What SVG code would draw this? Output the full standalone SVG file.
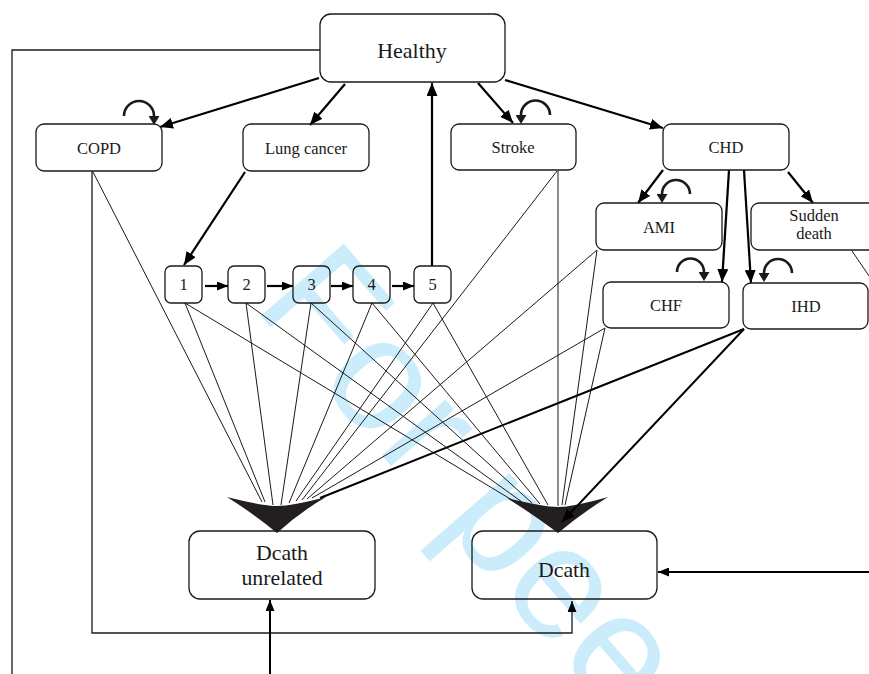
<svg xmlns="http://www.w3.org/2000/svg" width="869" height="674" viewBox="0 0 869 674">
<style>
.box{fill:none;stroke:#1a1a1a;stroke-width:1.3}
.t{font-family:"Liberation Serif","Times New Roman",serif;fill:#1a1a1a;text-anchor:middle}
.s{font-size:16.5px}
.big{font-size:22px}
.thin{fill:none;stroke:#1a1a1a;stroke-width:1}
.bold{fill:none;stroke:#000;stroke-width:2.2}
.frame{fill:none;stroke:#1a1a1a;stroke-width:1.3}
.loop{fill:none;stroke:#1a1a1a;stroke-width:2.6}
.fan{fill:#231f20}
.wm{font-family:"Liberation Sans",Arial,sans-serif;font-size:160px;fill:#cbedfb}
</style>
<defs>
<marker id="arr" markerUnits="userSpaceOnUse" markerWidth="13" markerHeight="11" viewBox="0 0 13 11" refX="13" refY="5.5" orient="auto"><path d="M0,0 L13,5.5 L0,11 z" fill="#000"/></marker>
<marker id="sarr" markerUnits="userSpaceOnUse" markerWidth="11" markerHeight="9" viewBox="0 0 11 9" refX="11" refY="4.5" orient="auto"><path d="M0,0 L11,4.5 L0,9 z" fill="#000"/></marker>
<marker id="larr" markerUnits="userSpaceOnUse" markerWidth="9" markerHeight="11" viewBox="0 0 9 11" refX="0" refY="5.5" orient="auto"><path d="M0,0 L9,5.5 L0,11 z" fill="#1a1a1a"/></marker>
</defs>

<text class="wm" transform="translate(252,306) rotate(49)">For peer review</text>

<g id="connectors">
<polyline class="frame" points="320,50 12,50 12,674"/>
<polyline class="frame" points="92,171 92,633 572,633 572,601" marker-end="url(#sarr)"/>
<line class="bold" x1="270" y1="674" x2="270" y2="600" marker-end="url(#sarr)" style="stroke-width:2"/>
<line class="bold" x1="869" y1="572" x2="658" y2="572" marker-end="url(#sarr)" style="stroke-width:2"/>
<line class="thin" x1="852" y1="251" x2="880" y2="292"/>

<line class="bold" x1="319" y1="78" x2="160" y2="127" marker-end="url(#arr)"/>
<line class="bold" x1="345" y1="84" x2="310" y2="125" marker-end="url(#arr)"/>
<line class="bold" x1="478" y1="83" x2="513" y2="123" marker-end="url(#arr)"/>
<line class="bold" x1="505" y1="80" x2="663" y2="128" marker-end="url(#arr)"/>
<line class="bold" x1="432" y1="266" x2="432" y2="83" marker-end="url(#arr)"/>

<line class="bold" x1="663" y1="170" x2="638" y2="203" marker-end="url(#arr)"/>
<line class="bold" x1="729" y1="170" x2="722" y2="282" marker-end="url(#arr)"/>
<line class="bold" x1="744" y1="170" x2="751" y2="283" marker-end="url(#arr)"/>
<line class="bold" x1="788" y1="172" x2="813" y2="203" marker-end="url(#arr)"/>

<line class="bold" x1="245" y1="172" x2="184" y2="265" marker-end="url(#arr)"/>
<line class="bold" x1="205" y1="286" x2="228" y2="286" marker-end="url(#sarr)"/>
<line class="bold" x1="267" y1="286" x2="293" y2="286" marker-end="url(#sarr)"/>
<line class="bold" x1="331" y1="286" x2="353" y2="286" marker-end="url(#sarr)"/>
<line class="bold" x1="392" y1="286" x2="414" y2="286" marker-end="url(#sarr)"/>

<path class="loop" d="M124,116 A15,15 0 0 1 154,116" marker-end="url(#larr)"/>
<path class="loop" d="M550,115 A14.5,14.5 0 0 0 521,115" marker-end="url(#larr)"/>
<path class="loop" d="M690,194 A14,14 0 0 0 662,194" marker-end="url(#larr)"/>
<path class="loop" d="M677,272 A13.5,13.5 0 0 1 704,272" marker-end="url(#larr)"/>
<path class="loop" d="M792,273 A14,14 0 0 0 764,273" marker-end="url(#larr)"/>

<line class="thin" x1="93" y1="172" x2="262" y2="502"/>
<line class="thin" x1="185" y1="303" x2="265" y2="502"/>
<line class="thin" x1="246" y1="303" x2="273" y2="505"/>
<line class="thin" x1="311" y1="303" x2="281" y2="505"/>
<line class="thin" x1="372" y1="303" x2="289" y2="503"/>
<line class="thin" x1="433" y1="303" x2="296" y2="501"/>
<line class="thin" x1="557" y1="171" x2="302" y2="500"/>
<line class="thin" x1="597" y1="250" x2="307" y2="499"/>
<line class="thin" x1="605" y1="328" x2="312" y2="498"/>
<line class="bold" x1="744" y1="329" x2="320" y2="498" style="stroke-width:2"/>

<line class="thin" x1="185" y1="303" x2="512" y2="500"/>
<line class="thin" x1="246" y1="303" x2="522" y2="502"/>
<line class="thin" x1="311" y1="303" x2="532" y2="503"/>
<line class="thin" x1="372" y1="303" x2="540" y2="504"/>
<line class="thin" x1="433" y1="303" x2="548" y2="505"/>
<line class="thin" x1="558" y1="171" x2="558" y2="506"/>
<line class="thin" x1="597" y1="250" x2="562" y2="505"/>
<line class="thin" x1="605" y1="328" x2="565" y2="505"/>

<path class="fan" d="M227,497 Q262,506 277,506 Q292,506 326,497 Q300,512 277,533 Q254,514 227,497 Z"/>
<path class="fan" d="M507,498 Q543,507 558,507 Q573,507 608,497 Q582,513 558,533 Q534,515 507,498 Z"/>
<line class="bold" x1="744" y1="329" x2="562" y2="522" marker-end="url(#arr)" style="stroke-width:2"/>
</g>

<g id="healthy"><rect class="box" x="320" y="14" width="185" height="68" rx="11"/><text class="t big" x="412" y="58">Healthy</text></g>
<g id="copd"><rect class="box" x="36" y="124" width="126" height="47" rx="8"/><text class="t s" x="99" y="154">COPD</text></g>
<g id="lungcancer"><rect class="box" x="243" y="124" width="126" height="47" rx="8"/><text class="t s" x="306" y="154">Lung cancer</text></g>
<g id="stroke"><rect class="box" x="451" y="124" width="125" height="46" rx="8"/><text class="t s" x="513" y="153">Stroke</text></g>
<g id="chd"><rect class="box" x="663" y="124" width="126" height="46" rx="8"/><text class="t s" x="726" y="153">CHD</text></g>
<g id="ami"><rect class="box" x="596" y="203" width="126" height="47" rx="8"/><text class="t s" x="659" y="233">AMI</text></g>
<g id="suddendeath"><rect class="box" x="751" y="203" width="126" height="47" rx="8"/><text class="t s" x="814" y="221">Sudden</text><text class="t s" x="814" y="239">death</text></g>
<g id="chf"><rect class="box" x="603" y="282" width="126" height="46" rx="8"/><text class="t s" x="666" y="311">CHF</text></g>
<g id="ihd"><rect class="box" x="743" y="283" width="125" height="46" rx="8"/><text class="t s" x="806" y="312">IHD</text></g>
<g id="t1"><rect class="box" x="165" y="266" width="37" height="37" rx="6"/><text class="t s" x="183.5" y="290">1</text></g>
<g id="t2"><rect class="box" x="228" y="266" width="37" height="37" rx="6"/><text class="t s" x="246.5" y="290">2</text></g>
<g id="t3"><rect class="box" x="293" y="266" width="37" height="37" rx="6"/><text class="t s" x="311.5" y="290">3</text></g>
<g id="t4"><rect class="box" x="353" y="266" width="37" height="37" rx="6"/><text class="t s" x="371.5" y="290">4</text></g>
<g id="t5"><rect class="box" x="414" y="266" width="37" height="37" rx="6"/><text class="t s" x="432.5" y="290">5</text></g>
<g id="deathunrelated"><rect class="box" x="189" y="531" width="186" height="68" rx="11"/><text class="t" style="font-size:21.8px" x="282" y="560">Dcath</text><text class="t" style="font-size:21.8px" x="282" y="585">unrelated</text></g>
<g id="death"><rect class="box" x="472" y="531" width="185" height="68" rx="11"/><text class="t" style="font-size:21.8px" x="564" y="577">Dcath</text></g>
</svg>
